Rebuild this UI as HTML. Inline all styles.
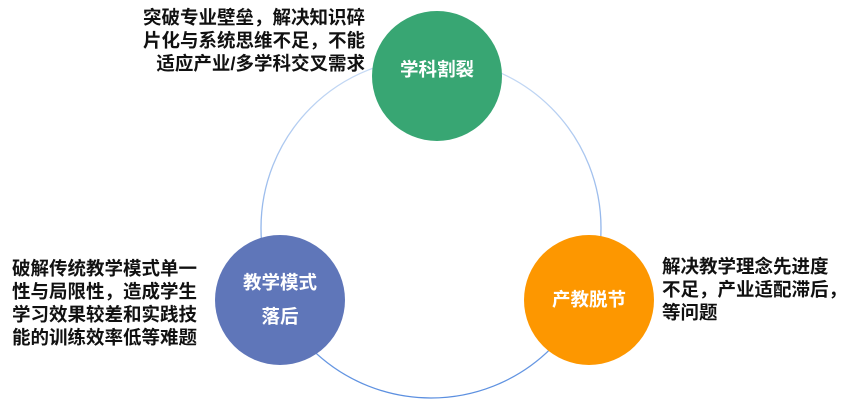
<!DOCTYPE html>
<html><head><meta charset="utf-8"><style>
body{margin:0;width:858px;height:400px;background:#fff;position:relative;overflow:hidden;font-family:"Liberation Sans","Noto Sans CJK SC",sans-serif;}
.t{position:absolute;font-weight:bold;font-size:18.5px;line-height:23px;color:#111;white-space:nowrap;}
.c{position:absolute;width:130px;height:130px;border-radius:50%;color:#fff;font-weight:bold;font-size:18.5px;display:flex;align-items:center;justify-content:center;text-align:center;line-height:34px;}
</style></head><body>
<svg width="858" height="400" style="position:absolute;left:0;top:0">
<defs><linearGradient id="g" x1="0" y1="0" x2="0" y2="1"><stop offset="0" stop-color="#c9dcf5"/><stop offset="1" stop-color="#5b8fe0"/></linearGradient></defs>
<circle cx="431" cy="228" r="170" fill="none" stroke="url(#g)" stroke-width="1.3"/>
</svg>
<div class="c" style="left:372px;top:11px;background:#38a673;padding-bottom:12px;box-sizing:border-box">学科割裂</div>
<div class="c" style="left:215px;top:235px;background:#5f76b9">教学模式<br>落后</div>
<div class="c" style="left:524px;top:235px;background:#fd9700">产教脱节</div>
<div class="t" style="right:493px;top:6px;text-align:right">突破专业壁垒，解决知识碎<br>片化与系统思维不足，不能<br>适应产业/多学科交叉需求</div>
<div class="t" style="left:12px;top:257px">破解传统教学模式单一<br>性与局限性，造成学生<br>学习效果较差和实践技<br>能的训练效率低等难题</div>
<div class="t" style="left:662px;top:255px">解决教学理念先进度<br>不足，产业适配滞后，<br>等问题</div>
</body></html>
